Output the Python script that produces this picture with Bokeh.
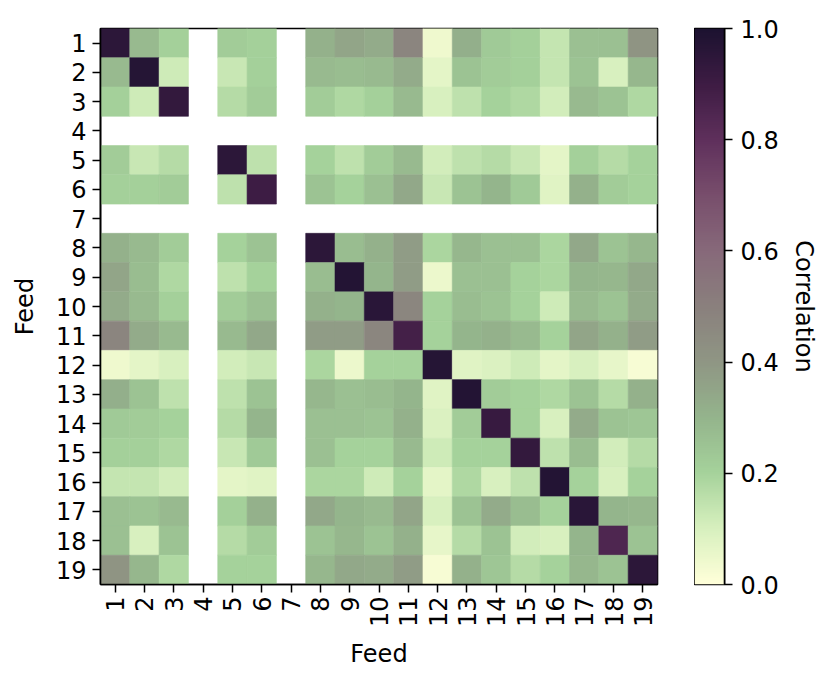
import math
import numpy as np
from bokeh.plotting import figure
from bokeh.models import LinearColorMapper, FixedTicker, ColumnDataSource, NumeralTickFormatter
from bokeh.transform import transform
from bokeh.layouts import row
from bokeh.embed import file_html
from bokeh.resources import INLINE

feeds = list(range(1, 20))
tick_labels = [str(f) for f in feeds]
cbar_ticks = [0.0, 0.2, 0.4, 0.6, 0.8, 1.0]

N = None
corr = [
    [0.95, 0.28, 0.21, N, 0.22, 0.21, N, 0.31, 0.35, 0.33, 0.48, 0.04, 0.32, 0.23, 0.21, 0.14, 0.26, 0.26, 0.41],
    [0.28, 0.97, 0.12, N, 0.13, 0.21, N, 0.28, 0.27, 0.28, 0.33, 0.07, 0.25, 0.22, 0.21, 0.14, 0.25, 0.10, 0.29],
    [0.21, 0.12, 0.93, N, 0.17, 0.22, N, 0.22, 0.18, 0.21, 0.28, 0.10, 0.15, 0.20, 0.18, 0.11, 0.28, 0.25, 0.18],
    [N] * 19,
    [0.22, 0.13, 0.17, N, 0.95, 0.15, N, 0.20, 0.15, 0.22, 0.28, 0.11, 0.15, 0.17, 0.13, 0.07, 0.21, 0.17, 0.20],
    [0.21, 0.21, 0.22, N, 0.15, 0.90, N, 0.25, 0.20, 0.26, 0.34, 0.13, 0.25, 0.30, 0.23, 0.08, 0.31, 0.22, 0.20],
    [N] * 19,
    [0.31, 0.28, 0.22, N, 0.20, 0.25, N, 0.95, 0.27, 0.31, 0.38, 0.19, 0.29, 0.26, 0.26, 0.19, 0.34, 0.25, 0.29],
    [0.35, 0.27, 0.18, N, 0.15, 0.20, N, 0.27, 0.98, 0.30, 0.38, 0.05, 0.26, 0.26, 0.20, 0.19, 0.30, 0.29, 0.34],
    [0.33, 0.28, 0.21, N, 0.22, 0.26, N, 0.31, 0.30, 0.96, 0.47, 0.20, 0.27, 0.25, 0.20, 0.12, 0.28, 0.25, 0.33],
    [0.48, 0.33, 0.28, N, 0.28, 0.34, N, 0.38, 0.38, 0.47, 0.88, 0.20, 0.30, 0.31, 0.28, 0.20, 0.35, 0.31, 0.38],
    [0.04, 0.07, 0.10, N, 0.11, 0.13, N, 0.19, 0.05, 0.20, 0.20, 0.97, 0.08, 0.09, 0.12, 0.07, 0.10, 0.06, 0.02],
    [0.32, 0.25, 0.15, N, 0.15, 0.25, N, 0.29, 0.26, 0.27, 0.30, 0.08, 0.98, 0.22, 0.20, 0.18, 0.25, 0.17, 0.31],
    [0.23, 0.22, 0.20, N, 0.17, 0.30, N, 0.26, 0.26, 0.25, 0.31, 0.09, 0.22, 0.92, 0.20, 0.10, 0.33, 0.25, 0.24],
    [0.21, 0.21, 0.18, N, 0.13, 0.23, N, 0.26, 0.20, 0.20, 0.28, 0.12, 0.20, 0.20, 0.93, 0.15, 0.27, 0.11, 0.17],
    [0.14, 0.14, 0.11, N, 0.07, 0.08, N, 0.19, 0.19, 0.12, 0.20, 0.07, 0.18, 0.10, 0.15, 0.98, 0.20, 0.10, 0.20],
    [0.26, 0.25, 0.28, N, 0.21, 0.31, N, 0.34, 0.30, 0.28, 0.35, 0.10, 0.25, 0.33, 0.27, 0.20, 0.96, 0.30, 0.29],
    [0.26, 0.10, 0.25, N, 0.17, 0.22, N, 0.25, 0.29, 0.25, 0.31, 0.06, 0.17, 0.25, 0.11, 0.10, 0.30, 0.85, 0.25],
    [0.41, 0.29, 0.18, N, 0.20, 0.20, N, 0.29, 0.34, 0.33, 0.38, 0.02, 0.31, 0.24, 0.17, 0.20, 0.29, 0.25, 0.95],
]

# colormap anchors (style)
anchors = [
    (0.0, (255, 255, 217)), (0.1, (215, 240, 190)), (0.2, (165, 210, 155)),
    (0.3, (148, 180, 140)), (0.4, (143, 150, 132)), (0.5, (138, 128, 125)),
    (0.6, (135, 105, 122)), (0.7, (120, 78, 108)), (0.8, (95, 48, 92)),
    (0.9, (62, 28, 68)), (1.0, (28, 18, 48)),
]
pos = np.array([a[0] for a in anchors])
rgb = np.array([a[1] for a in anchors], dtype=float)
t = np.linspace(0, 1, 256)
palette = ["#%02x%02x%02x" % tuple(int(round(np.interp(tt, pos, rgb[:, k]))) for k in range(3)) for tt in t]
mapper = LinearColorMapper(palette=palette, low=0.0, high=1.0)

xs, ys, vs = [], [], []
for i, r in enumerate(corr):
    for j, v in enumerate(r):
        if v is not None:
            xs.append(feeds[j]); ys.append(feeds[i]); vs.append(v)
src = ColumnDataSource(dict(x=xs, y=ys, v=vs))

FONT = "DejaVu Sans"
FS = "24px"

p = figure(frame_width=557, frame_height=556, x_range=(0.5, 19.5), y_range=(19.5, 0.5),
           output_backend="svg", toolbar_location=None,
           min_border_left=100, min_border_top=28, min_border_right=37, min_border_bottom=84)
p.rect(x="x", y="y", width=1, height=1, source=src,
       fill_color=transform("v", mapper), line_color=transform("v", mapper), line_width=0.6)
p.grid.visible = False
p.outline_line_color = "black"
p.outline_line_width = 1.6
for ax in (p.xaxis[0], p.yaxis[0]):
    ax.ticker = FixedTicker(ticks=feeds)
    ax.major_label_overrides = {f: s for f, s in zip(feeds, tick_labels)}
    ax.minor_tick_line_color = None
    ax.major_tick_in = 0
    ax.major_tick_out = 8
    ax.major_tick_line_width = 1.5
    ax.axis_line_width = 1.6
    ax.major_label_text_font = FONT
    ax.major_label_text_font_size = FS
    ax.major_label_text_color = "black"
    ax.axis_label = "Feed"
    ax.axis_label_text_font = FONT
    ax.axis_label_text_font_size = FS
    ax.axis_label_text_font_style = "normal"
    ax.axis_label_text_color = "black"
p.xaxis.major_label_orientation = math.pi / 2
p.xaxis.major_label_standoff = 4
p.xaxis.axis_label_standoff = 10
p.yaxis.major_label_standoff = 6
p.yaxis.axis_label_standoff = 14

# colorbar as separate figure
cb = figure(frame_width=30, frame_height=556, x_range=(0, 1), y_range=(0, 1),
            output_backend="svg", toolbar_location=None, y_axis_location="right",
            min_border_left=0, min_border_top=28, min_border_right=86, min_border_bottom=84)
grad = np.linspace(0, 1, 256).reshape(256, 1)
cb.image(image=[grad], x=0, y=0, dw=1, dh=1, color_mapper=mapper)
cb.grid.visible = False
cb.xaxis.visible = False
cb.outline_line_color = "black"
cb.outline_line_width = 1.6
ay = cb.yaxis[0]
ay.ticker = FixedTicker(ticks=cbar_ticks)
ay.formatter = NumeralTickFormatter(format="0.0")
ay.minor_tick_line_color = None
ay.major_tick_in = 0
ay.major_tick_out = 8
ay.major_tick_line_width = 1.5
ay.axis_line_width = 1.6
ay.major_label_text_font = FONT
ay.major_label_text_font_size = FS
ay.major_label_text_color = "black"
ay.major_label_standoff = 8
ay.axis_label = "Correlation"
ay.axis_label_text_font = FONT
ay.axis_label_text_font_size = FS
ay.axis_label_text_font_style = "normal"
ay.axis_label_text_color = "black"
ay.axis_label_standoff = 8

layout = row(p, cb)
open("out.html", "w").write(file_html(layout, INLINE))
